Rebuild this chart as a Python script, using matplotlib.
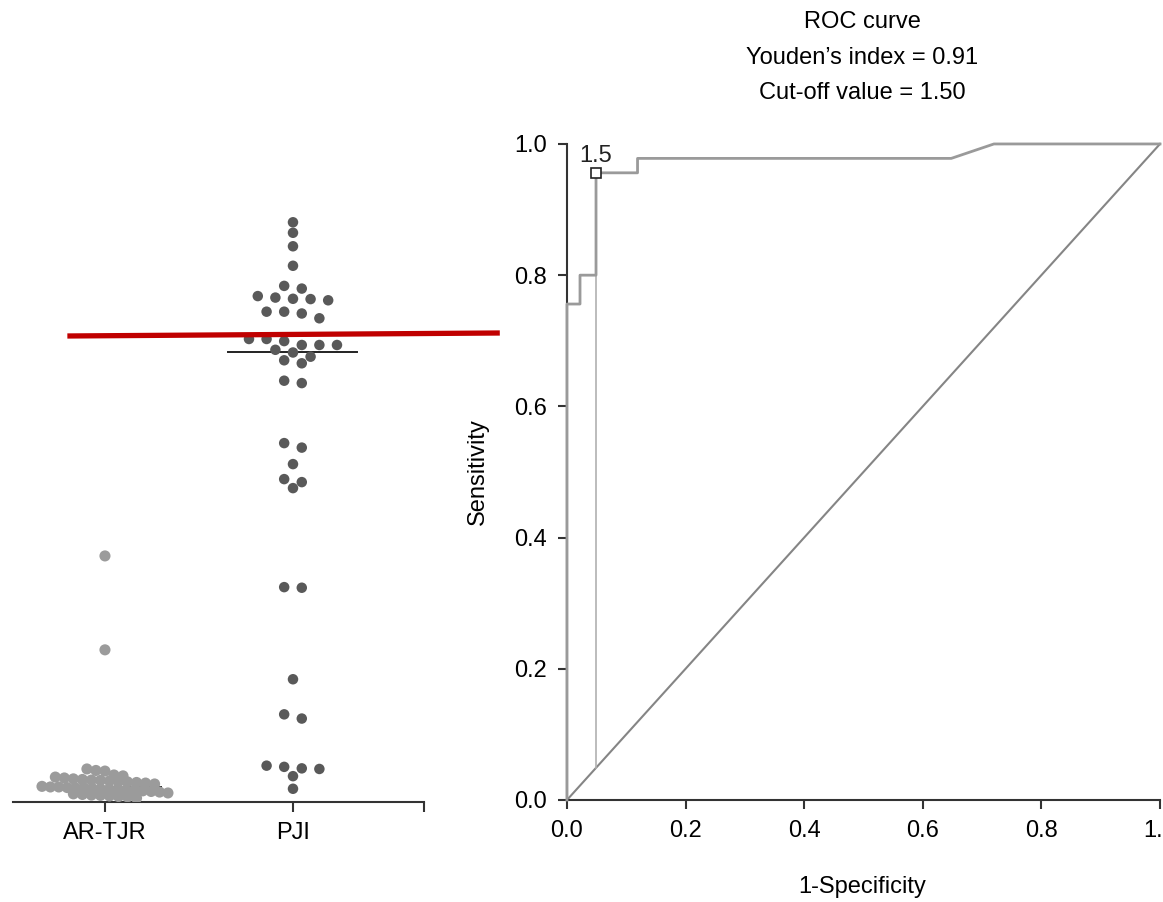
import numpy as np
import matplotlib
matplotlib.use("Agg")
import matplotlib.pyplot as plt

plt.rcParams['font.family'] = ['Liberation Sans', 'DejaVu Sans']

# --- datos panel izquierdo (nivel por paciente, eje y oculto, unidades arbitrarias)
groups = ["AR-TJR", "PJI"]
ar_tjr = [0.820, 0.507,
          0.110, 0.105, 0.103, 0.090, 0.087,
          0.083, 0.080, 0.077, 0.075, 0.073, 0.072, 0.070, 0.068, 0.067, 0.065, 0.063, 0.060,
          0.052, 0.050, 0.050, 0.048, 0.047, 0.047, 0.045, 0.043, 0.043, 0.042, 0.040, 0.040,
          0.037, 0.035, 0.033, 0.030,
          0.027, 0.025, 0.023, 0.022, 0.020, 0.018, 0.017, 0.013]
pji = [1.932, 1.897, 1.852, 1.787, 1.720, 1.711, 1.686, 1.681, 1.677, 1.676, 1.672,
       1.634, 1.634, 1.628, 1.612, 1.543, 1.543, 1.536, 1.523, 1.523, 1.523,
       1.507, 1.498, 1.484, 1.472, 1.462, 1.404, 1.396,
       1.196, 1.181, 1.126, 1.076, 1.066, 1.046, 0.716, 0.714,
       0.409, 0.292, 0.278, 0.121, 0.117, 0.112, 0.110, 0.086, 0.044]
red_x = [0.80, 3.10]
red_y = [1.553, 1.563]

# --- curva ROC
fpr = [0.0, 0.0, 0.022, 0.022, 0.049, 0.049, 0.119, 0.119, 0.648, 0.72, 1.0]
tpr = [0.0, 0.756, 0.756, 0.8, 0.8, 0.956, 0.956, 0.978, 0.978, 1.0, 1.0]
cut_fpr, cut_tpr = 0.049, 0.956
cut_label = "1.5"
youden = 0.91
cutoff = 1.50
title_lines = ["ROC curve", f"Youden\u2019s index = {youden:.2f}", f"Cut-off value = {cutoff:.2f}"]


def row_layout(vals, row_h, step, max_half):
    # agrupa valores cercanos en filas y las reparte horizontalmente
    vals = np.asarray(vals)
    order = np.argsort(vals)[::-1]
    offs = np.zeros(len(vals))
    i = 0
    while i < len(order):
        start = vals[order[i]]
        j = i
        while j < len(order) and start - vals[order[j]] < row_h:
            j += 1
        idx = order[i:j]
        n = len(idx)
        s = step if n < 2 else min(step, 2 * max_half / (n - 1))
        offs[idx] = (np.arange(n) - (n - 1) / 2) * s
        i = j
    return offs


fig = plt.figure(figsize=(11.63, 9.02), dpi=100)
FS = 17
AXC = "#333333"

# ---------------- panel izquierdo
axl = fig.add_axes([0.0112, 0.1109, 0.3534, 0.7295])
axl.set_xlim(0.511, 2.697)
axl.set_ylim(0, 2.193)
for sp in ["left", "top", "right"]:
    axl.spines[sp].set_visible(False)
axl.spines["bottom"].set_color(AXC)
axl.spines["bottom"].set_linewidth(1.5)
axl.set_yticks([])
axl.set_xticks([1, 2, 2.697])
axl.set_xticklabels(groups + [""], fontsize=FS)
axl.tick_params(axis="x", direction="out", length=7.5, width=1.5, color=AXC, pad=7)

# (valores, color, paso, tamaño, semiancho de la mediana)
styles = [(ar_tjr, "#9b9b9b", 0.048, 64, 0.30), (pji, "#595959", 0.0936, 57, 0.343)]
for k, (vals, col, step, size, mw) in enumerate(styles):
    xpos = k + 1
    offs = row_layout(vals, 0.024, step, 0.335)
    med = np.median(vals)
    axl.plot([xpos - mw, xpos + mw], [med, med], color="#222222", lw=1.4, zorder=2)
    axl.scatter(xpos + offs, vals, s=size, color=col, edgecolors="none", zorder=3)

axl.plot(red_x, red_y, color="#c00000", lw=3.8, solid_capstyle="butt", clip_on=False, zorder=5)

# ---------------- panel derecho (ROC)
axr = fig.add_axes([0.4875, 0.1131, 0.5099, 0.7273])
axr.set_xlim(0, 1)
axr.set_ylim(0, 1)
for sp in ["top", "right"]:
    axr.spines[sp].set_visible(False)
for sp in ["left", "bottom"]:
    axr.spines[sp].set_color(AXC)
    axr.spines[sp].set_linewidth(1.5)
ticks = np.arange(0, 1.01, 0.2)
axr.set_xticks(ticks)
axr.set_yticks(ticks)
axr.set_xticklabels([f"{t:.1f}" for t in ticks], fontsize=FS)
axr.set_yticklabels([f"{t:.1f}" for t in ticks], fontsize=FS)
axr.tick_params(direction="out", length=6.5, width=1.5, color=AXC, pad=8)

axr.plot([0, 1], [0, 1], color="#858585", lw=1.5, clip_on=False, zorder=2)
axr.plot([cut_fpr, cut_fpr], [cut_fpr, cut_tpr], color="#b0b0b0", lw=1.2, zorder=2)
axr.plot(fpr, tpr, color="#9a9a9a", lw=2.0, clip_on=False, zorder=3)
axr.plot([cut_fpr], [cut_tpr], marker="s", ms=7, mfc="white", mec="#222222", mew=1.2,
         zorder=4, clip_on=False)
axr.annotate(cut_label, (cut_fpr, cut_tpr), xytext=(0, 4), textcoords="offset points",
             ha="center", va="bottom", fontsize=FS, color="#222222")

axr.text(-0.150, 0.5, "Sensitivity", transform=axr.transAxes, rotation=90,
         ha="center", va="center", fontsize=FS)
axr.text(0.497, -0.1326, "1-Specificity", transform=axr.transAxes,
         ha="center", va="center", fontsize=FS)

for i, line in enumerate(title_lines):
    fig.text(862 / 1163, 1 - (22 + 35.5 * i) / 902, line, ha="center", va="center", fontsize=FS)

fig.savefig("out.png", dpi=100)
